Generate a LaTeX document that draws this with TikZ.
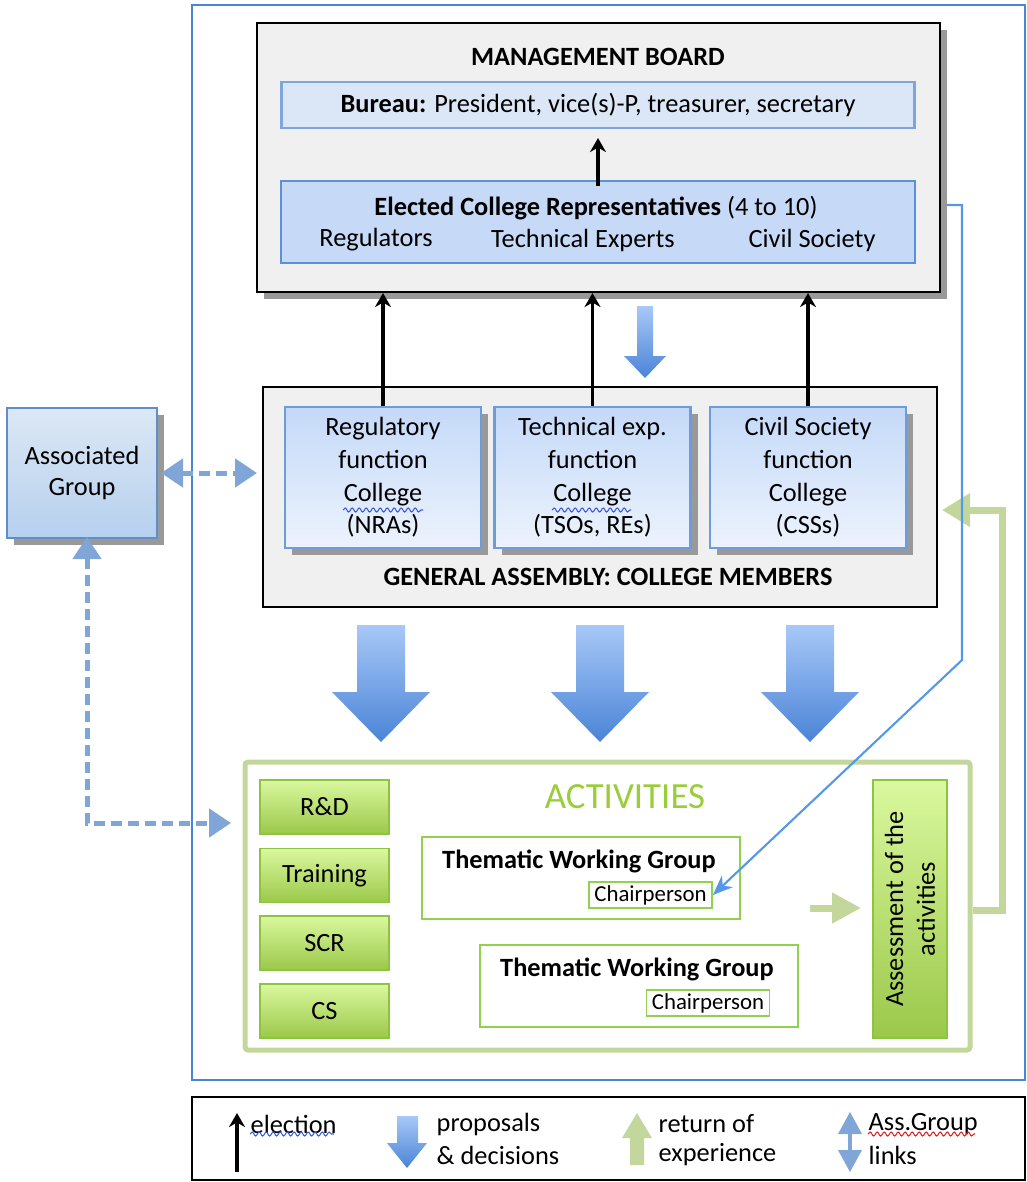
\documentclass[tikz,border=0pt]{standalone}
\usepackage{fontspec}
\setmainfont{Carlito}
\usetikzlibrary{shadows,arrows.meta,decorations.pathmorphing}

\definecolor{frameblue}{HTML}{4A86D4}
\definecolor{boardfill}{HTML}{F0F0F0}
\definecolor{burfill}{HTML}{DBE6F6}
\definecolor{burdraw}{HTML}{7EA6DC}
\definecolor{elecfill}{HTML}{C6DAF8}
\definecolor{elecdraw}{HTML}{5D90DA}
\definecolor{colltop}{HTML}{C4D9F8}
\definecolor{collbot}{HTML}{EDF3FD}
\definecolor{colldraw}{HTML}{6C9BDE}
\definecolor{agtop}{HTML}{DCE8F5}
\definecolor{agbot}{HTML}{B6D0EE}
\definecolor{agdraw}{HTML}{5F8FCB}
\definecolor{agblue}{HTML}{7FA6D6}
\definecolor{arrtop}{HTML}{A8C8F8}
\definecolor{arrbot}{HTML}{4A84D6}
\definecolor{retgreen}{HTML}{C3D69B}
\definecolor{grtop}{HTML}{DAF89E}
\definecolor{grbot}{HTML}{9BC84A}
\definecolor{grdraw}{HTML}{8CC442}
\definecolor{twgdraw}{HTML}{92D050}
\definecolor{actgreen}{HTML}{9ACD3A}
\definecolor{linkblue}{HTML}{5597E8}
\definecolor{spellblue}{HTML}{3B5BD9}
\definecolor{spellred}{HTML}{E02020}

\begin{document}
\begin{tikzpicture}[x = 0.1mm, y = -0.1mm,
    every node/.style = {font = \fontsize{7.5}{9}\selectfont, inner sep = 0pt},
    title/.style = {font = \fontsize{7.5}{9}\selectfont\bfseries},
    shadowed/.style = {drop shadow = {shadow xshift = 0.7mm, shadow yshift = -0.7mm, fill = black!40, opacity = 1}},
    board/.style = {draw = black, fill = boardfill, line width = 0.6pt},
    bureau/.style = {draw = burdraw, fill = burfill, line width = 0.6pt},
    elected/.style = {draw = elecdraw, fill = elecfill, line width = 0.6pt},
    college/.style = {draw = colldraw, top color = colltop, bottom color = collbot, line width = 0.6pt,
                      shadowed, minimum width = 19.6mm, minimum height = 14.1mm, align = center,
                      font = \fontsize{7.5}{9.3}\selectfont},
    assoc/.style = {draw = agdraw, top color = agtop, bottom color = agbot, line width = 0.6pt,
                    shadowed, minimum width = 15mm, minimum height = 13mm, align = center},
    greenbox/.style = {draw = grdraw, top color = grtop, bottom color = grbot, line width = 0.5pt,
                       minimum width = 12.9mm, minimum height = 5.4mm},
    twg/.style = {draw = twgdraw, line width = 0.5pt, minimum width = 31.8mm, minimum height = 8.2mm},
    chair/.style = {draw = twgdraw, line width = 0.5pt, minimum width = 12.3mm, minimum height = 2.6mm,
                    font = \fontsize{6.5}{8}\selectfont},
    elect/.style = {-{Stealth[length = 1.4mm, width = 1.6mm]}, line width = 1pt},
    bluearrow/.style = {top color = arrtop, bottom color = arrbot},
    agdash/.style = {agblue, line width = 0.5mm, dash pattern = on 1.1mm off 0.6mm},
    agtip/.tip = {Triangle[length = 2.2mm, width = 2.8mm]},
    spell/.style = {line width = 0.3pt, decorate, decoration = {snake, amplitude = 0.2mm, segment length = 0.7mm}}]

  \useasboundingbox (0, 0) rectangle (1027, 1182);

  % frames
  \draw [frameblue, line width = 0.25mm] (192, 5) rectangle (1025, 1080);
  \draw [line width = 0.5pt] (192, 1097) rectangle (1025, 1180);

  % management board
  \node [board, shadowed, minimum width = 68.3mm, minimum height = 26.9mm] (mb) at (598.5, 157.5){};
  \node [title] (mbtitle) at (598, 57) {MANAGEMENT BOARD};
  \node [bureau, minimum width = 63.3mm, minimum height = 4.6mm] (bur) at (598, 105)
        {\textbf{Bureau:} President, vice(s)-P, treasurer, secretary};
  \node [elected, minimum width = 63.4mm, minimum height = 8.2mm] (elec) at (598, 222){};
  \node (electxt) at (596, 208) {\textbf{Elected College Representatives} (4 to 10)};
  \node (regtxt) at (376, 240) {Regulators};
  \node (techtxt) at (583, 240) {Technical Experts};
  \node (civtxt) at (812, 240) {Civil Society};
  \draw [elect] ([yshift = -0.6mm]elec.north) -- ([yshift = -0.9mm]bur.south);

  % general assembly
  \node [board, minimum width = 67.4mm, minimum height = 22mm] (ga) at (600, 497){};
  \node [college] (reg) at (383, 477.5) {Regulatory\\function\\College\\(NRAs)};
  \node [college] (tech) at (592.5, 477.5) {Technical exp.\\function\\College\\(TSOs, REs)};
  \node [college] (civ) at (808, 477.5) {Civil Society\\function\\College\\(CSSs)};
  \node [title] (gatitle) at (608, 577) {GENERAL ASSEMBLY: COLLEGE MEMBERS};

  \draw [elect] (reg.north) -- (reg.north |- mb.south);
  \draw [elect] (tech.north) -- (tech.north |- mb.south);
  \draw [elect] (civ.north) -- (civ.north |- mb.south);

  \shade [bluearrow] (637, 306) -- (653, 306) -- (653, 356) -- (666, 356) -- (645, 378) -- (624, 356) -- (637, 356) -- cycle;

  % associated group
  \node [assoc] (ag) at (82, 473) {Associated\\Group};
  \coordinate (gain) at (257, 473);
  \coordinate (actin) at (231, 823);
  \draw [agdash, agtip-agtip] ([xshift = 0.3mm]ag.east) -- (gain);
  \draw [agdash, agtip-agtip] ([xshift = 0.5mm, yshift = 0.2mm]ag.south) |- (actin);

  % proposals and decisions
  \shade [bluearrow] (357, 625) -- (405, 625) -- (405, 692) -- (430, 692) -- (381, 742) -- (332, 692) -- (357, 692) -- cycle;
  \shade [bluearrow] (576, 625) -- (624, 625) -- (624, 692) -- (649, 692) -- (600, 742) -- (551, 692) -- (576, 692) -- cycle;
  \shade [bluearrow] (786, 625) -- (834, 625) -- (834, 692) -- (859, 692) -- (810, 742) -- (761, 692) -- (786, 692) -- cycle;

  % activities
  \node [draw = retgreen, line width = 0.5mm, rounded corners = 0.3mm,
         minimum width = 72.5mm, minimum height = 28.8mm] (act) at (607.5, 906){};
  \node [font = \fontsize{10.5}{12}\selectfont, text = actgreen] (acttitle) at (625, 797) {ACTIVITIES};
  \node [greenbox] (rd) at (324.5, 807) {R\&D};
  \node [greenbox] (train) at (324.5, 875.5) {Training};
  \node [greenbox] (scr) at (324.5, 943) {SCR};
  \node [greenbox] (cs) at (324.5, 1011) {CS};

  \node [twg] (twg1) at (581, 878){};
  \node [title] at (579, 861) {Thematic Working Group};
  \node [chair] (chair1) at (650.5, 895) {Chairperson};
  \node [twg] (twg2) at (639, 986){};
  \node [title] at (637, 969) {Thematic Working Group};
  \node [chair] (chair2) at (708, 1003) {Chairperson};

  \node [greenbox, rotate = 90, minimum width = 25.8mm, minimum height = 7.4mm, align = center]
        (assess) at (910, 909) {Assessment of the\\activities};

  % return of experience
  \coordinate (toassess) at (810, 908);
  \coordinate (ret) at (942, 510);
  \draw [retgreen, line width = 0.7mm, -{Triangle[length = 2.9mm, width = 2.9mm]}]
        (toassess) -- ([xshift = -1.1mm]assess.north |- toassess);
  \draw [retgreen, line width = 0.7mm, -{Triangle[length = 2.8mm, width = 3.2mm]}]
        ([yshift = -0.4mm]act.east) -- ++(30, 0) |- (ret);

  % chair link
  \draw [linkblue, line width = 0.6pt, -{Stealth[length = 2mm, width = 1.6mm]}]
        ([xshift = 0.6mm, yshift = -4.75mm]mb.east) -| (962, 660) -- (chair1.east);

  % legend
  \draw [elect] (237, 1172) -- (237, 1113);
  \node [anchor = west] (lelect) at (250, 1124) {election};
  \shade [bluearrow] (397, 1116) -- (418, 1116) -- (418, 1143) -- (427, 1143) -- (407, 1168) -- (387, 1143) -- (397, 1143) -- cycle;
  \node [anchor = west] (lprop) at (436, 1124) {proposals};
  \node [anchor = west] (ldec) at (436, 1155) {\& decisions};
  \fill [retgreen] (630, 1165) -- (644, 1165) -- (644, 1138) -- (652, 1138) -- (637, 1113) -- (622, 1138) -- (630, 1138) -- cycle;
  \node [anchor = west] (lret) at (658, 1124) {return of};
  \node [anchor = west] (lexp) at (658, 1155) {experience};
  \fill [agblue] (838, 1134) -- (862, 1134) -- (850, 1112) -- cycle;
  \fill [agblue] (848, 1134) rectangle (852, 1150);
  \fill [agblue] (838, 1150) -- (862, 1150) -- (850, 1172) -- cycle;
  \node [anchor = west] (lag) at (868, 1124) {Ass.Group};
  \node [anchor = west] (llinks) at (868, 1155) {links};

  % spell check marks
  \draw [spellblue, spell] (343, 510) -- (423, 510);
  \draw [spellblue, spell] (552, 510) -- (631, 510);
  \draw [spellblue, spell] (250, 1134) -- (334, 1134);
  \draw [spellred, spell] (868, 1134) -- (975, 1134);
\end{tikzpicture}
\end{document}
